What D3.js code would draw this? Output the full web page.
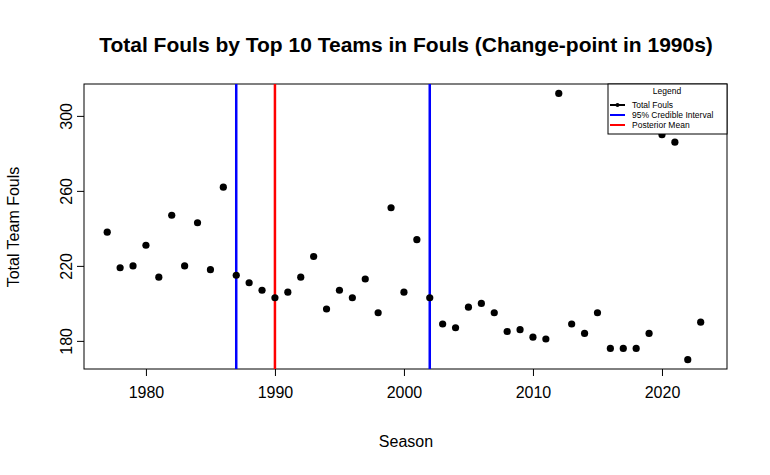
<!DOCTYPE html>
<html><head><meta charset="utf-8">
<script src="https://cdn.jsdelivr.net/npm/d3@7"></script>
<style>body{margin:0;background:#fff}text{font-family:Arial,"Liberation Sans",sans-serif}</style>
</head><body><div id="chart"></div>
<script>
const seasons = d3.range(1977, 2024)
const fouls = [238,219,220,231,214,247,220,243,218,262,215,211,207,203,206,214,225,197,207,203,213,195,251,206,
  234,203,189,187,198,200,195,185,186,182,181,312,189,184,195,176,176,176,184,290,286,170,190]
const ciLines = [1987, 2002]
const meanLine = 1990
const xTicks = [1980, 1990, 2000, 2010, 2020]
const yTicks = [180, 220, 260, 300]

const margin = {top: 84, bottom: 106, right: 43, left: 84}
const width = 770 - margin.left - margin.right
const height = 475 - margin.top - margin.bottom

const svg = d3.select("#chart").append("svg").attr("width", 770).attr("height", 475)
const g = svg.append("g").attr("transform", `translate(${margin.left},${margin.top})`)

const x = d3.scaleLinear().domain([1975.2, 2025.04]).range([0, width])
const y = d3.scaleLinear().domain([165, 317]).range([height, 0])

// axes
const xa = g.append("g").attr("transform", `translate(0,${height})`)
  .call(d3.axisBottom(x).tickValues(xTicks).tickFormat(d3.format("d")).tickSize(7).tickSizeOuter(0))
xa.select(".domain").remove()
xa.selectAll("text").attr("font-size", 16).attr("dy", "1.2em")
const ya = g.append("g")
  .call(d3.axisLeft(y).tickValues(yTicks).tickSize(7).tickSizeOuter(0))
ya.select(".domain").remove()
ya.selectAll("text").attr("font-size", 16).attr("transform", "rotate(-90)")
  .attr("x", 0).attr("y", -12).attr("text-anchor", "middle").attr("dy", 0)

g.append("rect").attr("width", width).attr("height", height)
  .attr("fill", "none").attr("stroke", "black")

// vertical lines
g.selectAll(".ci").data(ciLines).enter().append("line")
  .attr("x1", d => x(d)).attr("x2", d => x(d)).attr("y1", 0).attr("y2", height)
  .attr("stroke", "#0000ff").attr("stroke-width", 2.5)
g.append("line").attr("x1", x(meanLine)).attr("x2", x(meanLine)).attr("y1", 0).attr("y2", height)
  .attr("stroke", "#ff0000").attr("stroke-width", 2.5)

// points
g.selectAll(".pt").data(seasons).enter().append("circle")
  .attr("cx", d => x(d)).attr("cy", (d, i) => y(fouls[i])).attr("r", 3.6).attr("fill", "black")

// titles
svg.append("text").attr("x", 406).attr("y", 52).attr("text-anchor", "middle")
  .attr("font-size", 21).attr("font-weight", "bold").text("Total Fouls by Top 10 Teams in Fouls (Change-point in 1990s)")
svg.append("text").attr("x", 406).attr("y", 447).attr("text-anchor", "middle")
  .attr("font-size", 16).text("Season")
svg.append("text").attr("transform", "translate(19,227) rotate(-90)").attr("text-anchor", "middle")
  .attr("font-size", 16).text("Total Team Fouls")

// legend
const lg = svg.append("g").attr("transform", "translate(608,84)")
lg.append("rect").attr("width", 119).attr("height", 50).attr("fill", "white").attr("stroke", "black")
lg.append("text").attr("x", 59).attr("y", 10).attr("text-anchor", "middle").attr("font-size", 8.5).text("Legend")
const items = [["Total Fouls", "black"], ["95% Credible Interval", "#0000ff"], ["Posterior Mean", "#ff0000"]]
items.forEach((it, i) => {
  const yy = 24 + i * 10
  lg.append("line").attr("x1", 2).attr("x2", 17).attr("y1", yy - 3).attr("y2", yy - 3)
    .attr("stroke", it[1]).attr("stroke-width", 2)
  if (i === 0) lg.append("circle").attr("cx", 9.5).attr("cy", yy - 3).attr("r", 2).attr("fill", "black")
  lg.append("text").attr("x", 24).attr("y", yy).attr("font-size", 8.5).text(it[0])
})
</script></body></html>
